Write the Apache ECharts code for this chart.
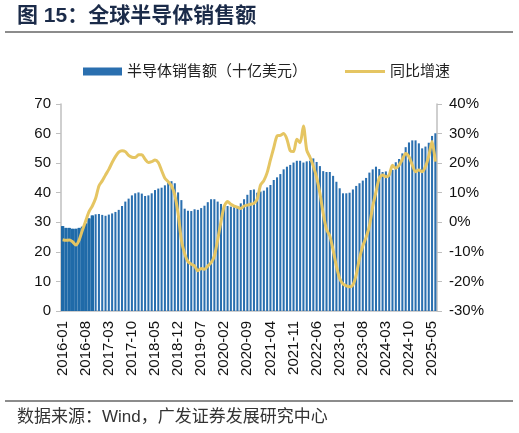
<!DOCTYPE html>
<html>
<head>
<meta charset="utf-8">
<script src="https://cdn.jsdelivr.net/npm/echarts@6/dist/echarts.min.js"></script>
<style>
  html, body { margin: 0; padding: 0; background: #fff; }
  #chart { width: 519px; height: 433px; }
</style>
</head>
<body>
<div id="chart"></div>
<script>
// 月份 2016-01 ~ 2025-06
var months = []
for (var y = 2016; y <= 2025; y++) {
    for (var m = 1; m <= 12; m++) {
        if (y == 2025 && m > 6) break
        months.push(y + '-' + (m < 10 ? '0' + m : m))
    }
}

// 半导体销售额（十亿美元）
var sales = [
    28.7, 28.1, 28.1, 27.8, 27.8, 28.1, 28.5, 29.6, 31.3, 32.3, 32.7, 32.8,
    32.5, 32.2, 32.6, 33.0, 33.5, 34.2, 35.5, 37.0, 38.0, 39.1, 39.8, 40.1,
    39.7, 38.9, 39.1, 39.8, 40.9, 41.4, 41.7, 42.5, 43.4, 43.9, 43.2, 40.1,
    37.5, 34.6, 33.9, 33.8, 34.4, 34.2, 34.8, 35.6, 36.8, 37.8, 37.8, 37.0,
    36.2, 35.5, 35.5, 35.3, 35.1, 35.5, 36.4, 37.8, 39.3, 40.9, 41.1, 40.0,
    40.4, 40.7, 41.8, 42.6, 44.3, 45.2, 46.3, 47.9, 48.8, 49.4, 50.2, 50.8,
    50.8, 50.2, 50.6, 50.8, 51.6, 50.4, 49.0, 47.3, 47.0, 47.0, 45.7, 43.7,
    41.5, 39.8, 39.8, 40.0, 41.1, 42.3, 43.2, 44.1, 45.0, 46.8, 47.9, 48.8,
    48.0, 47.0, 47.2, 46.3, 47.7, 50.3, 51.4, 53.3, 55.4, 57.0, 57.7, 57.7,
    56.7, 55.0, 55.6, 56.9, 59.2, 60.1
]

// 同比增速（%）
var yoy = [
    -5.9, -6.1, -6.0, -6.6, -7.7, -6.0, -2.6, 0.5, 3.6, 5.5, 8.1, 12.3,
    14.0, 16.0, 17.9, 20.2, 22.2, 23.7, 24.2, 23.9, 22.6, 22.0, 21.9, 22.8,
    22.8, 21.3, 20.2, 20.5, 21.1, 20.2, 17.5, 14.9, 13.7, 12.3, 9.2, 3.0,
    -6.0, -10.7, -13.3, -14.2, -14.8, -16.4, -15.6, -15.9, -14.8, -13.7, -11.4, -6.0,
    0.2, 5.5, 7.0, 6.1, 5.5, 5.1, 4.7, 5.5, 5.8, 6.1, 6.4, 7.9,
    12.6, 14.1, 16.8, 21.1, 25.2, 29.2, 29.4, 30.0, 28.1, 24.2, 23.9, 28.1,
    26.9, 32.6, 24.4, 22.0, 19.0, 15.2, 9.8, 3.0, -2.4, -4.6, -9.4, -14.8,
    -19.0, -20.9, -21.5, -21.8, -21.2, -17.8, -12.2, -8.0, -5.1, -1.3, 5.3, 10.3,
    15.0, 16.0, 15.4, 16.0, 19.3, 18.3, 19.3, 21.3, 23.3, 22.2, 19.4, 17.1,
    17.7, 17.1, 18.8, 22.4, 27.3, 20.5
]

// 前10个月的柱子在原图里是连成一片的
var solidCount = 10
var solidSales = sales.map(function (v, i) { return i < solidCount ? v : null })

var salesName = '半导体销售额（十亿美元）'
var yoyName = '同比增速'
var font = '"Liberation Sans", Arial, "Noto Sans CJK SC", sans-serif'
var legendText = { fontSize: 15, color: '#222', fontFamily: font }

var chart = echarts.init(document.getElementById('chart'))
chart.setOption({
    animation: false,
    textStyle: { fontFamily: font },
    graphic: [
        {
            type: 'text', left: 17, top: 6,
            style: {
                text: '图 15：全球半导体销售额',
                fontSize: 21, fontWeight: 'bold', fill: '#1B2B49',
                fontFamily: '"Liberation Sans", "Noto Sans CJK SC", sans-serif'
            }
        },
        {
            type: 'line',
            shape: { x1: 5, y1: 32, x2: 513, y2: 32 },
            style: { stroke: '#8C8C8C', lineWidth: 2 }
        },
        {
            type: 'line',
            shape: { x1: 5, y1: 401, x2: 513, y2: 401 },
            style: { stroke: '#8C8C8C', lineWidth: 2 }
        },
        {
            type: 'text', left: 17, top: 409,
            style: {
                text: '数据来源：Wind，广发证券发展研究中心',
                fontSize: 17, fill: '#333',
                fontFamily: '"Liberation Sans", "Noto Sans CJK SC", sans-serif'
            }
        }
    ],
    legend: [{
        data: [{ name: salesName, icon: 'rect' }],
        left: 78,
        top: 59,
        itemWidth: 39,
        itemHeight: 8,
        textStyle: legendText
    }, {
        data: [{ name: yoyName, icon: 'rect' }],
        left: 340,
        top: 59,
        itemWidth: 40,
        itemHeight: 3,
        textStyle: legendText
    }],
    grid: {
        left: 61,
        right: 82,
        top: 104,
        bottom: 122
    },
    xAxis: [{
        type: 'category',
        data: months,
        boundaryGap: true,
        axisLine: { lineStyle: { color: '#BFBFBF', width: 1.5 } },
        axisTick: { show: false },
        axisLabel: {
            interval: 6,
            rotate: 90,
            margin: 10,
            fontSize: 15,
            color: '#111'
        }
    }, {
        type: 'category',
        data: months,
        boundaryGap: true,
        show: false
    }],
    yAxis: [{
        type: 'value',
        min: 0,
        max: 70,
        interval: 10,
        position: 'left',
        splitLine: { show: false },
        axisLine: { show: true, lineStyle: { color: '#BFBFBF', width: 1.5 } },
        axisTick: { show: true, length: 5, lineStyle: { color: '#BFBFBF' } },
        axisLabel: { fontSize: 15, color: '#111', margin: 10 }
    }, {
        type: 'value',
        min: -30,
        max: 40,
        interval: 10,
        position: 'right',
        splitLine: { show: false },
        axisLine: { show: true, lineStyle: { color: '#BFBFBF', width: 1.5 } },
        axisTick: { show: true, length: 5, lineStyle: { color: '#BFBFBF' } },
        axisLabel: { fontSize: 15, color: '#111', margin: 12, formatter: '{value}%' }
    }],
    series: [{
        name: salesName,
        type: 'bar',
        data: sales,
        barCategoryGap: '38%',
        itemStyle: { color: '#2A6FAF' }
    }, {
        name: 'solid',
        type: 'bar',
        xAxisIndex: 1,
        data: solidSales,
        barCategoryGap: '0%',
        itemStyle: { color: '#1F6AA8' }
    }, {
        name: yoyName,
        type: 'line',
        yAxisIndex: 1,
        data: yoy,
        symbol: 'none',
        smooth: 0.25,
        z: 5,
        itemStyle: { color: '#E5C562' },
        lineStyle: { color: '#E5C562', width: 3, join: 'round' }
    }]
})
</script>
</body>
</html>
